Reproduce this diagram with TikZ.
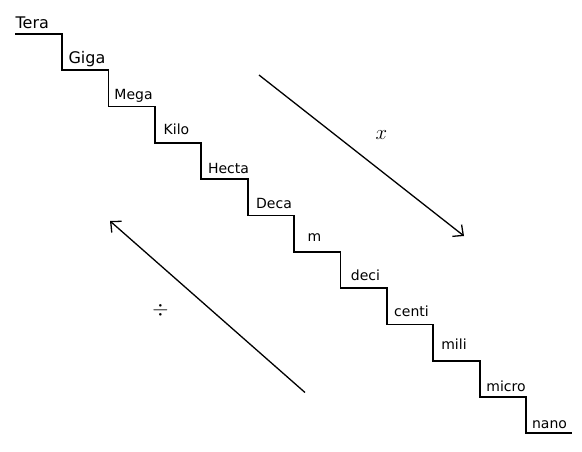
\documentclass[tikz,border=0pt]{standalone}
\usepackage{amsmath}
\usepackage{fontspec}
\setmainfont{DejaVu Sans}
\usetikzlibrary{arrows.meta}

\tikzset{
    unitlabel/.style={font=\fontsize{14}{16}\selectfont,anchor=base,inner sep=0pt},
    bigunitlabel/.style={unitlabel,font=\fontsize{16}{18}\selectfont},
    stair/.style={line width=1.8pt},
    factor/.style={font=\fontsize{20}{24}\selectfont}
}

\begin{document}
\begin{tikzpicture}[x=1pt,y=-1pt,>={Straight Barb[length=8pt,width=15pt]},line width=1.3pt]
    \useasboundingbox (0,0) rectangle (582,452);

    % the staircase
    \draw[stair] (15,34) -| (62,70.3) -| (108.4,106.6) -| (154.8,142.9)
        -| (201.2,179.2) -| (247.6,215.5) -| (294,251.8) -| (340.4,288.1)
        -| (386.8,324.4) -| (433.2,360.7) -| (479.6,397) -| (526,433.3)
        -- (572,433.3);

    % the prefixes, one per step
    \node[bigunitlabel,anchor=base west] (tera) at (15,28.3) {Tera};
    \node[bigunitlabel] (giga) at (87,63.3) {Giga};
    \node[unitlabel] (mega) at (133.5,99.3) {Mega};
    \node[unitlabel] (kilo) at (176.5,135) {Kilo};
    \node[unitlabel] (hecta) at (228.5,173.3) {Hecta};
    \node[unitlabel] (deca) at (274,208.3) {Deca};
    \node[unitlabel] (base) at (314.5,241.7) {m};
    \node[unitlabel] (deci) at (365.5,280) {deci};
    \node[unitlabel] (centi) at (411.5,316.7) {centi};
    \node[unitlabel] (mili) at (454,349.3) {mili};
    \node[unitlabel] (micro) at (506,391) {micro};
    \node[unitlabel] (nano) at (549.5,428) {nano};

    % going down: multiply
    \coordinate (mulfrom) at (259,75);
    \coordinate (multo) at (464,236);
    \draw[->] (mulfrom) -- (multo);
    \node[factor] (mul) at (381.5,135) {$x$};

    % going up: divide
    \coordinate (divfrom) at (305,392.5);
    \coordinate (divto) at (110,221);
    \draw[->] (divfrom) -- (divto);
    \node[factor] (div) at (160.5,310) {$\div$};
\end{tikzpicture}
\end{document}
